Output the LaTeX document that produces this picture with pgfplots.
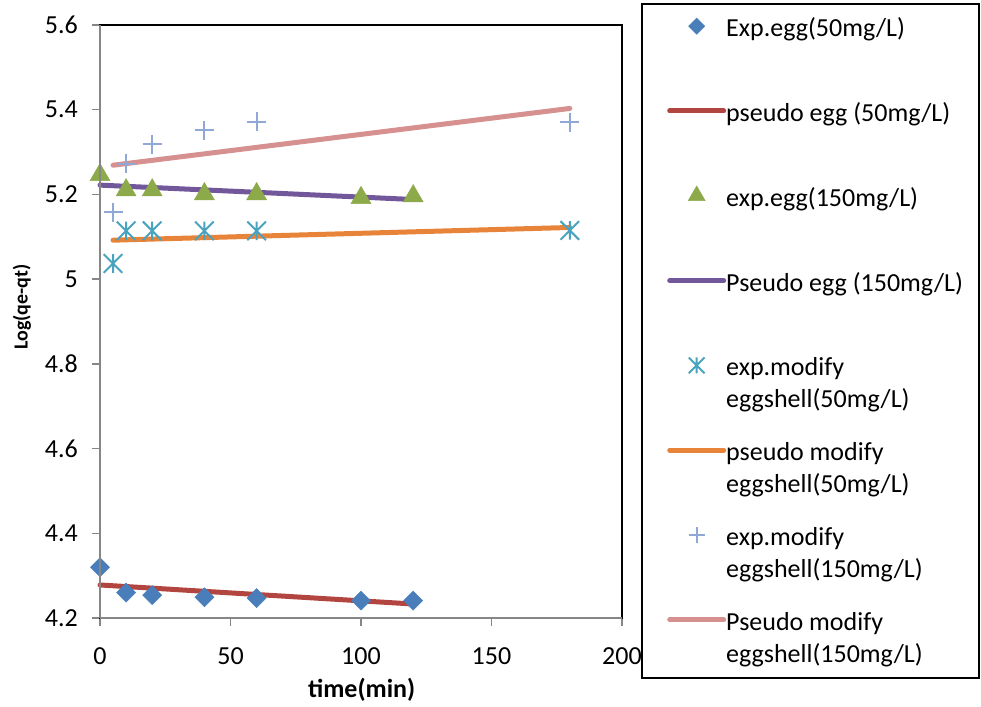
\documentclass[border=0pt]{standalone}
\usepackage{pgfplots}
\pgfplotsset{compat=1.18}
\usepackage{fontspec}
\setmainfont{Carlito}

\definecolor{cdia}{HTML}{4A7EBB}
\definecolor{cred}{HTML}{B2453F}
\definecolor{cgreen}{HTML}{8DAA4B}
\definecolor{cpurple}{HTML}{72589A}
\definecolor{cteal}{HTML}{4AA3BE}
\definecolor{corange}{HTML}{E8843A}
\definecolor{cplus}{HTML}{8FA8D6}
\definecolor{cpink}{HTML}{D69090}
\definecolor{axgray}{HTML}{868686}

\pgfdeclareplotmark{dia}{%
  \pgfpathmoveto{\pgfqpoint{0pt}{\pgfplotmarksize}}%
  \pgfpathlineto{\pgfqpoint{\pgfplotmarksize}{0pt}}%
  \pgfpathlineto{\pgfqpoint{0pt}{-\pgfplotmarksize}}%
  \pgfpathlineto{\pgfqpoint{-\pgfplotmarksize}{0pt}}%
  \pgfpathclose
  \pgfusepathqfillstroke}
\pgfdeclareplotmark{xstar}{%
  \pgfpathmoveto{\pgfqpoint{0pt}{-\pgfplotmarksize}}%
  \pgfpathlineto{\pgfqpoint{0pt}{\pgfplotmarksize}}%
  \pgfpathmoveto{\pgfqpoint{-\pgfplotmarksize}{-\pgfplotmarksize}}%
  \pgfpathlineto{\pgfqpoint{\pgfplotmarksize}{\pgfplotmarksize}}%
  \pgfpathmoveto{\pgfqpoint{-\pgfplotmarksize}{\pgfplotmarksize}}%
  \pgfpathlineto{\pgfqpoint{\pgfplotmarksize}{-\pgfplotmarksize}}%
  \pgfusepathqstroke}

\newcommand{\twol}[2]{\raisebox{0pt}[\ht\strutbox][\dp\strutbox]{\begin{tabular}[t]{@{}l@{}}#1\\#2\end{tabular}}}
\newcommand{\lw}[1]{\makebox[240pt][l]{#1}}

\begin{document}
\begin{tikzpicture}
\useasboundingbox (0pt,0pt) rectangle (981pt,-706pt);
\begin{axis}[
  at={(100pt,-618pt)}, anchor=south west,
  scale only axis, width=522pt, height=593pt,
  xmin=0, xmax=200, ymin=4.2, ymax=5.6,
  xtick={0,50,100,150,200},
  ytick={4.2,4.4,4.6,4.8,5,5.2,5.4,5.6},
  tick align=outside, tick pos=left, major tick length=8pt,
  tick style={color=axgray, line width=1.5pt},
  axis line style={line width=1.5pt, black},
  clip=false,
  /pgf/number format/assume math mode=true,
  ticklabel style={font=\fontsize{26}{31}\selectfont},
  yticklabel style={inner sep=0pt, xshift=-14pt},
  xticklabel style={inner sep=0pt, yshift=-21pt},
  xlabel={\bfseries\fontsize{26}{31}\selectfont time(min)},
  ylabel={\bfseries\fontsize{20}{24}\selectfont Log(qe-qt)},
  xlabel style={at={(rel axis cs:0.5013,-0.1214)}, anchor=center},
  ylabel style={at={(rel axis cs:-0.1494,0.5245)}, anchor=center},
  legend style={at={(1.0383,1.0354)}, anchor=north west, draw=none, fill=none,
    inner xsep=5pt, inner ysep=8pt, row sep=56.9pt, column sep=0pt,
    font=\fontsize{26}{32}\selectfont, nodes={inner xsep=0pt, inner ysep=2pt}},
  legend cell align=left,
  legend image code/.code={\path (-20pt,0pt); \draw[mark repeat=2,mark phase=2,#1] plot coordinates {(0pt,0pt) (27pt,0pt) (54pt,0pt)};},
  legend image post style={mark options={scale=0.85}},
  after end axis/.code={
    \draw[axgray, line width=2pt] (rel axis cs:0,0) -- (rel axis cs:0,1);
    \draw[axgray, line width=2pt] (rel axis cs:0,0) -- (rel axis cs:1,0);
    \draw[black, line width=1.5pt] (rel axis cs:1.0383,1.0354) rectangle (rel axis cs:1.6839,-0.1012);
  },
]
% lines first
\addplot[forget plot, cred, line width=5pt, line cap=round] coordinates {(0,4.278) (120,4.233)};
\addplot[forget plot, cpurple, line width=5pt, line cap=round] coordinates {(0,5.222) (120,5.188)};
\addplot[forget plot, corange, line width=5pt, line cap=round] coordinates {(5,5.092) (180,5.122)};
\addplot[forget plot, cpink, line width=5pt, line cap=round] coordinates {(5,5.269) (180,5.403)};
% markers
\addplot[forget plot, only marks, cdia, mark=dia, mark size=9.5pt, line width=0.5pt] coordinates {
 (0,4.320) (10,4.260) (20,4.254) (40,4.249) (60,4.247) (100,4.241) (120,4.241)};
\addplot[forget plot, only marks, cgreen, mark=triangle*, mark size=11.5pt, line width=0.5pt] coordinates {
 (0,5.246) (10,5.210) (20,5.210) (40,5.201) (60,5.201) (100,5.192) (120,5.196)};
\addplot[forget plot, only marks, cteal, mark=xstar, mark size=9.3pt, line width=2pt] coordinates {
 (5,5.037) (10,5.114) (20,5.114) (40,5.114) (60,5.114) (180,5.115)};
\addplot[forget plot, only marks, cplus, mark=+, mark size=9.5pt, line width=2pt] coordinates {
 (5,5.158) (10,5.272) (20,5.319) (40,5.352) (60,5.372) (180,5.370)};

\addlegendimage{only marks, cdia, mark=dia, mark size=9.5pt, line width=0.5pt}
\addlegendentry{\lw{\strut Exp.egg(50mg/L)}}
\addlegendimage{cred, line width=5pt, line cap=round}
\addlegendentry{\lw{\strut pseudo egg (50mg/L)}}
\addlegendimage{only marks, cgreen, mark=triangle*, mark size=11.5pt, line width=0.5pt}
\addlegendentry{\lw{\strut exp.egg(150mg/L)}}
\addlegendimage{cpurple, line width=5pt, line cap=round}
\addlegendentry{\lw{\strut Pseudo egg (150mg/L)}}
\addlegendimage{only marks, cteal, mark=xstar, mark size=9.3pt, line width=2pt}
\addlegendentry{\lw{\twol{exp.modify}{eggshell(50mg/L)}}}
\addlegendimage{corange, line width=5pt, line cap=round}
\addlegendentry{\lw{\twol{pseudo modify}{eggshell(50mg/L)}}}
\addlegendimage{only marks, cplus, mark=+, mark size=9.5pt, line width=2pt}
\addlegendentry{\lw{\twol{exp.modify}{eggshell(150mg/L)}}}
\addlegendimage{cpink, line width=5pt, line cap=round}
\addlegendentry{\lw{\twol{Pseudo modify}{eggshell(150mg/L)}}}
\end{axis}
\end{tikzpicture}
\end{document}
